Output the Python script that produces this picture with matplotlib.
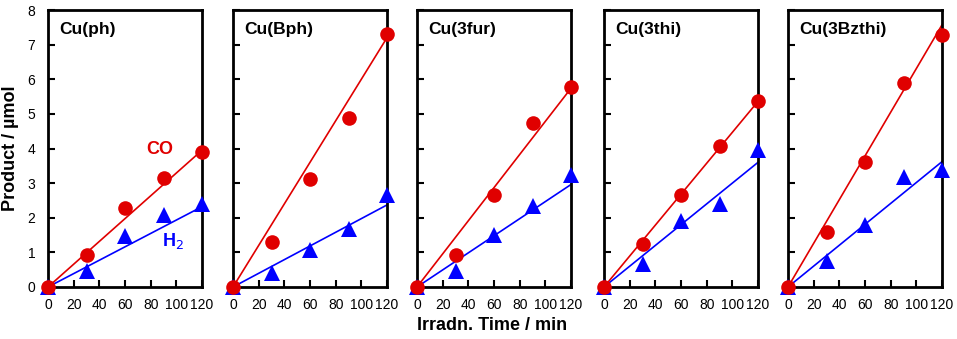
import numpy as np
import matplotlib.pyplot as plt

plt.rcParams['font.family'] = ['Liberation Sans', 'DejaVu Sans']

names = ['Cu(ph)', 'Cu(Bph)', 'Cu(3fur)', 'Cu(3thi)', 'Cu(3Bzthi)']
time_min = [0, 30, 60, 90, 120]

co_umol = [
    [0, 0.93, 2.28, 3.15, 3.90],
    [0, 1.31, 3.11, 4.88, 7.30],
    [0, 0.93, 2.66, 4.73, 5.78],
    [0, 1.25, 2.66, 4.08, 5.38],
    [0, 1.60, 3.60, 5.90, 7.27],
]
h2_umol = [
    [0, 0.47, 1.48, 2.08, 2.40],
    [0, 0.41, 1.07, 1.67, 2.66],
    [0, 0.47, 1.50, 2.33, 3.24],
    [0, 0.66, 1.91, 2.40, 3.95],
    [0, 0.74, 1.79, 3.19, 3.37],
]
# fitted line values at 120 min
co_fit_end = [3.95, 7.20, 5.74, 5.36, 7.57]
h2_fit_end = [2.32, 2.37, 2.96, 3.60, 3.62]

red = '#E00000'
blue = '#0000FF'

fig = plt.figure(figsize=(9.57, 3.39), dpi=100)
lefts = [48, 233, 417, 604, 788]
W, H = 957, 339
for i, name in enumerate(names):
    ax = fig.add_axes([lefts[i] / W, (H - 287) / H, 154 / W, 277 / H])
    ax.plot([0, 120], [0, co_fit_end[i]], color=red, lw=1.2, zorder=2)
    ax.plot([0, 120], [0, h2_fit_end[i]], color=blue, lw=1.2, zorder=2)
    ax.plot(time_min, h2_umol[i], '^', color=blue, ms=11, mew=0, clip_on=False, zorder=3)
    ax.plot(time_min, co_umol[i], 'o', color=red, ms=10.5, mew=0, clip_on=False, zorder=4)
    ax.set_xlim(0, 120)
    ax.set_ylim(0, 8)
    ax.set_xticks([0, 20, 40, 60, 80, 100, 120])
    ax.set_yticks(range(9))
    ax.tick_params(direction='in', length=5, width=1.5, labelsize=10)
    ax.tick_params(axis='x', pad=8)
    ax.tick_params(axis='y', pad=9)
    if i > 0:
        ax.set_yticklabels([])
    for s in ax.spines.values():
        s.set_linewidth(2)
    ax.text(0.07, 0.955, name, transform=ax.transAxes, fontsize=12.5,
            fontweight='bold', va='top', ha='left')
    if i == 0:
        ax.set_ylabel('Product / µmol', fontsize=13, fontweight='bold', labelpad=6)
        ax.text(87, 3.98, 'CO', color=red, fontsize=13, fontweight='bold',
                ha='center', va='center')
        ax.text(97, 1.34, 'H$_2$', color=blue, fontsize=13, fontweight='bold',
                ha='center', va='center')

fig.text(492 / W, 1 - 326 / H, 'Irradn. Time / min', fontsize=13,
         fontweight='bold', ha='center', va='center')
fig.savefig('out.png', dpi=100)
